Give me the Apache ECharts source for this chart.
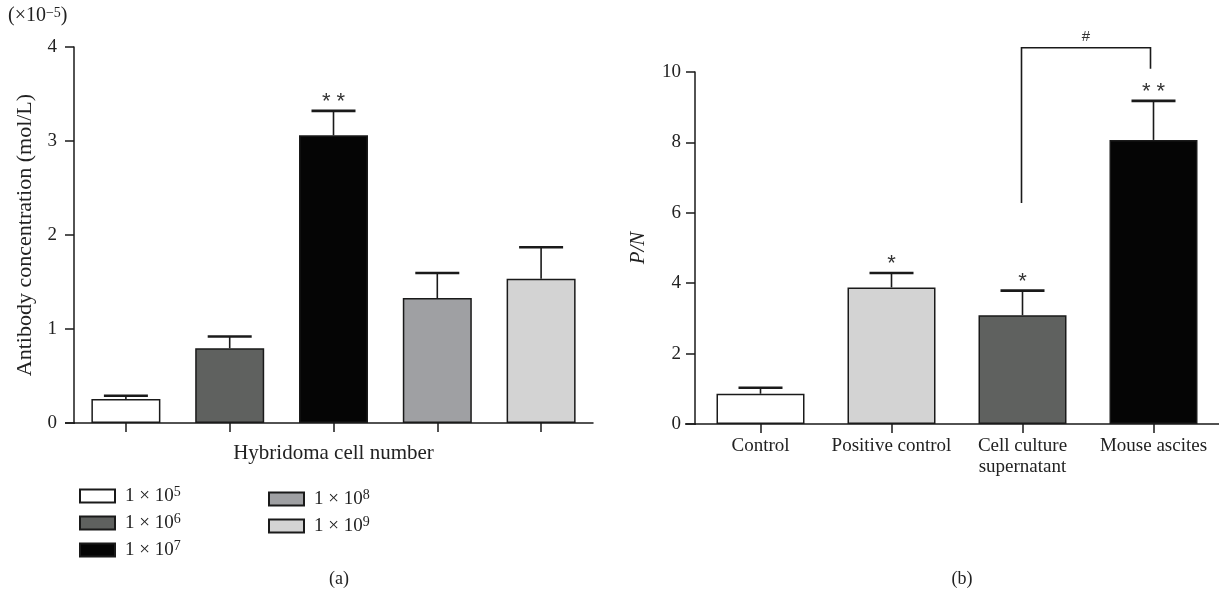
<!DOCTYPE html>
<html>
<head>
<meta charset="utf-8">
<script src="https://cdn.jsdelivr.net/npm/echarts@6/dist/echarts.min.js"></script>
<style>
html,body{margin:0;padding:0;background:#fff;}
#c{width:1219px;height:599px;}
</style>
</head>
<body>
<div id="c"></div>
<script>
// ---- data: panel (a)
const cellExponents = ['5', '6', '7', '8', '9'];
const concMean = [0.255, 0.795, 3.06, 1.33, 1.535];
const concSD = [0.035, 0.125, 0.26, 0.265, 0.335];
const concSig = ['', '', '**', '', ''];
const concTicks = [0, 1, 2, 3, 4];

// ---- data: panel (b)
const groups = ['Control', 'Positive control', 'Cell culture\nsupernatant', 'Mouse ascites'];
const pnMean = [0.86, 3.88, 3.09, 8.07];
const pnSD = [0.17, 0.41, 0.70, 1.11];
const pnSig = ['', '*', '*', '**'];
const pnTicks = [0, 2, 4, 6, 8, 10];
const bracketFrom = 2, bracketTo = 3;
const bracketY = [6.28, 10.69, 10.09]; // left leg bottom, top, right leg bottom
const bracketLabel = '#';

const FONT = "'Liberation Serif', 'Times New Roman', serif";
const INK = '#1a1a1a';
const leftColors = ['#ffffff', '#5f615f', '#050505', '#9fa0a3', '#d3d3d3'];
const rightColors = ['#ffffff', '#d3d3d3', '#5f615f', '#050505'];

const chart = echarts.init(document.getElementById('c'), null, {renderer: 'canvas'});

const seriesNames = cellExponents.map(e => '1 × 10^' + e);

function errRenderer(sig) {
  return function (params, api) {
    const x = api.value(0);
    const p0 = api.coord([x, api.value(1)]);
    const p1 = api.coord([x, api.value(2)]);
    const children = [
      {type: 'line', shape: {x1: p0[0], y1: p0[1], x2: p1[0], y2: p1[1]}, style: {stroke: INK, lineWidth: 1.6}},
      {type: 'line', shape: {x1: p1[0] - 22, y1: p1[1], x2: p1[0] + 22, y2: p1[1]}, style: {stroke: INK, lineWidth: 2.6}}
    ];
    const s = sig[params.dataIndex];
    if (s) {
      children.push({type: 'text', style: {
        text: s.split('').join(' '), x: p1[0], y: p1[1] + 2,
        textAlign: 'center', textVerticalAlign: 'bottom',
        font: "22px 'Liberation Sans', Arial, sans-serif", fill: '#333'
      }});
    }
    return {type: 'group', children: children};
  };
}

const series = [];
cellExponents.forEach((e, i) => {
  series.push({
    type: 'bar', name: seriesNames[i], xAxisIndex: 0, yAxisIndex: 0,
    data: concMean.map((v, j) => (j === i ? v : '-')),
    barWidth: 69, barGap: '-100%',
    itemStyle: {color: leftColors[i], borderColor: INK, borderWidth: 1.5},
    emphasis: {disabled: true}
  });
});
series.push({
  type: 'custom', xAxisIndex: 0, yAxisIndex: 0, z: 10, clip: false,
  data: concMean.map((m, i) => [i, m, m + concSD[i]]),
  renderItem: errRenderer(concSig)
});
series.push({
  type: 'bar', name: 'pn', xAxisIndex: 1, yAxisIndex: 1,
  data: pnMean.map((v, i) => ({value: v, itemStyle: {color: rightColors[i]}})),
  barWidth: 88,
  itemStyle: {borderColor: INK, borderWidth: 1.5},
  emphasis: {disabled: true}
});
series.push({
  type: 'custom', xAxisIndex: 1, yAxisIndex: 1, z: 10, clip: false,
  data: pnMean.map((m, i) => [i, m, m + pnSD[i]]),
  renderItem: errRenderer(pnSig)
});
series.push({
  type: 'custom', xAxisIndex: 1, yAxisIndex: 1, z: 10, clip: false,
  data: [[bracketFrom, bracketTo, bracketY[0], bracketY[1], bracketY[2]]],
  renderItem: function (params, api) {
    const a = api.value(0), b = api.value(1);
    const pA = api.coord([a, api.value(2)]);
    const pAT = api.coord([a, api.value(3)]);
    const pBT = api.coord([b, api.value(3)]);
    const pB = api.coord([b, api.value(4)]);
    return {type: 'group', children: [
      {type: 'polyline', shape: {points: [[pA[0] - 1, pA[1]], [pAT[0] - 1, pAT[1]], [pBT[0] - 3, pBT[1]], [pB[0] - 3, pB[1]]]},
        style: {stroke: INK, lineWidth: 1.6, fill: null}},
      {type: 'text', style: {text: bracketLabel, x: (pAT[0] + pBT[0]) / 2 - 2, y: pAT[1] - 3,
        textAlign: 'center', textVerticalAlign: 'bottom', font: "15px 'Liberation Sans', Arial, sans-serif", fill: '#333'}}
    ]};
  }
});

const axisLine = {show: true, lineStyle: {color: INK, width: 1.5}};
const axisTickY = {show: true, inside: false, length: 9, lineStyle: {color: INK, width: 1.5}};
const axisTickX = {show: true, inside: false, length: 9, alignWithLabel: true, lineStyle: {color: INK, width: 1.5}};
const labelStyle = {color: '#222', fontFamily: FONT, fontSize: 19};

const legendBase = {
  orient: 'vertical', icon: 'rect', itemWidth: 35, itemHeight: 13, itemGap: 5,
  selectedMode: false,
  formatter: name => name.replace(/\^(\d+)/, '{sup|$1}'),
  textStyle: {
    fontFamily: FONT, fontSize: 19, color: '#222', lineHeight: 22, padding: [0, 0, 0, 5],
    rich: {sup: {fontFamily: FONT, fontSize: 14, lineHeight: 12, verticalAlign: 'top', color: '#222'}}
  }
};

chart.setOption({
  animation: false,
  backgroundColor: '#ffffff',
  title: [
    {text: '(a)', left: 334, top: 565, textAlign: 'center', textStyle: {fontFamily: FONT, fontSize: 18, fontWeight: 'normal', color: '#222'}},
    {text: '(b)', left: 957, top: 565, textAlign: 'center', textStyle: {fontFamily: FONT, fontSize: 18, fontWeight: 'normal', color: '#222'}}
  ],
  legend: [
    Object.assign({}, legendBase, {data: seriesNames.slice(0, 3), left: 74, top: 480}),
    Object.assign({}, legendBase, {data: seriesNames.slice(3), left: 263, top: 483})
  ],
  grid: [
    {left: 74, top: 47, width: 519, height: 376},
    {left: 695, top: 72, width: 526, height: 352}
  ],
  xAxis: [
    {type: 'category', gridIndex: 0, data: seriesNames, axisLine: axisLine, axisTick: axisTickX,
      axisLabel: {show: false},
      name: 'Hybridoma cell number', nameLocation: 'middle', nameGap: 20,
      nameTextStyle: {fontFamily: FONT, fontSize: 21, color: '#222'}},
    {type: 'category', gridIndex: 1, data: groups, axisLine: axisLine, axisTick: axisTickX,
      axisLabel: Object.assign({}, labelStyle, {margin: 12, lineHeight: 21, interval: 0})}
  ],
  yAxis: [
    {type: 'value', gridIndex: 0, min: 0, max: 4, interval: 1, axisLine: axisLine, axisTick: axisTickY,
      splitLine: {show: false}, axisLabel: Object.assign({}, labelStyle, {margin: 17}),
      name: 'Antibody concentration (mol/L)', nameLocation: 'middle', nameGap: 38, nameRotate: 90,
      nameTextStyle: {fontFamily: FONT, fontSize: 22, color: '#222'}},
    {type: 'value', gridIndex: 1, min: 0, max: 10, interval: 2, axisLine: axisLine, axisTick: axisTickY,
      splitLine: {show: false}, axisLabel: Object.assign({}, labelStyle, {margin: 14}),
      name: 'P/N', nameLocation: 'middle', nameGap: 46, nameRotate: 90,
      nameTextStyle: {fontFamily: FONT, fontSize: 21, fontStyle: 'italic', color: '#222'}}
  ],
  graphic: [
    {type: 'text', left: 8, top: 6, style: {
      text: '(×10{sup|−5})', font: "20px " + FONT, fill: '#222',
      rich: {sup: {fontFamily: FONT, fontSize: 14, lineHeight: 12, verticalAlign: 'top', fill: '#222'}}
    }},
    {type: 'line', shape: {x1: 65, y1: 423, x2: 75, y2: 423}, style: {stroke: INK, lineWidth: 1.5}},
    {type: 'line', shape: {x1: 685, y1: 424, x2: 696, y2: 424}, style: {stroke: INK, lineWidth: 1.5}}
  ],
  series: series
});
</script>
</body>
</html>
